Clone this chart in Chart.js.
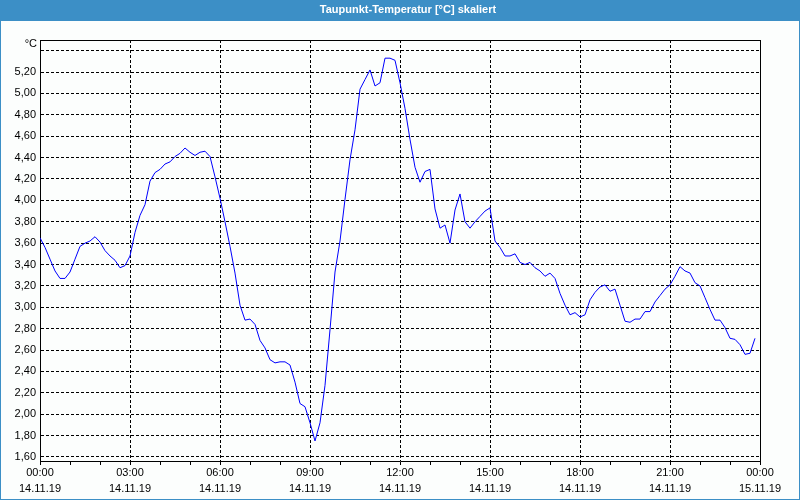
<!DOCTYPE html>
<html>
<head>
<meta charset="utf-8">
<script src="https://cdn.jsdelivr.net/npm/chart.js@4/dist/chart.umd.min.js"></script>
<style>
html,body{margin:0;padding:0;background:#fcfefd;}
#wrap{width:800px;height:500px;}
</style>
</head>
<body>
<div id="wrap"><canvas id="c" width="800" height="500"></canvas></div>
<script>
// ---- data (10-minute samples starting 14.11.19 00:00) ----
const chartTitle = 'Taupunkt-Temperatur [°C] skaliert';
const yUnitLabel = '°C';
const sampleStepMinutes = 10;
const dewPoint = [
  3.65,3.56,3.45,3.34,3.27,3.27,3.33,3.45,3.57,3.60,
  3.62,3.66,3.61,3.53,3.48,3.44,3.37,3.39,3.48,3.70,
  3.86,3.96,4.18,4.26,4.29,4.34,4.36,4.41,4.44,4.49,
  4.45,4.42,4.45,4.46,4.41,4.22,4.02,3.80,3.57,3.32,
  3.02,2.88,2.89,2.84,2.69,2.62,2.51,2.48,2.49,2.49,
  2.46,2.30,2.10,2.07,1.92,1.75,1.92,2.27,2.79,3.33,
  3.62,4.01,4.38,4.66,5.04,5.13,5.22,5.07,5.10,5.33,
  5.33,5.31,5.10,4.86,4.57,4.31,4.17,4.27,4.29,3.92,
  3.74,3.77,3.60,3.91,4.06,3.80,3.74,3.80,3.85,3.90,
  3.93,3.62,3.56,3.48,3.48,3.50,3.42,3.40,3.42,3.37,
  3.34,3.29,3.32,3.27,3.13,3.02,2.93,2.95,2.91,2.93,
  3.07,3.14,3.19,3.21,3.15,3.17,3.02,2.87,2.86,2.89,
  2.89,2.96,2.96,3.05,3.11,3.17,3.21,3.29,3.38,3.34,
  3.32,3.23,3.20,3.09,2.98,2.88,2.88,2.81,2.71,2.70,
  2.65,2.56,2.57,2.71
];
const xTickMinutes = [0,60,120,180,240,300,360,420,480,540,600,660,720,780,840,900,960,1020,1080,1140,1200,1260,1320,1380,1440];
const xTimeLabels = ['00:00','03:00','06:00','09:00','12:00','15:00','18:00','21:00','00:00'];
const xDateLabels = ['14.11.19','14.11.19','14.11.19','14.11.19','14.11.19','14.11.19','14.11.19','14.11.19','15.11.19'];
const yTickValues = [1.6,1.8,2.0,2.2,2.4,2.6,2.8,3.0,3.2,3.4,3.6,3.8,4.0,4.2,4.4,4.6,4.8,5.0,5.2,5.4];
const yTickLabels = ['1,60','1,80','2,00','2,20','2,40','2,60','2,80','3,00','3,20','3,40','3,60','3,80','4,00','4,20','4,40','4,60','4,80','5,00','5,20',''];
const yMin = 1.5625, yMax = 5.5;

const points = dewPoint.map((v, i) => ({x: i * sampleStepMinutes, y: v}));
const tickFont = {family: '"Liberation Sans Narrow", "Liberation Sans", Arial, sans-serif', size: 11, lineHeight: 1.43};

const frame = {
  id: 'frame',
  beforeDraw(chart) {
    const {ctx, width, height} = chart;
    ctx.save();
    ctx.fillStyle = '#fcfefd'; ctx.fillRect(0, 0, width, height);
    ctx.fillStyle = '#3c8fc6'; ctx.fillRect(0, 0, width, 21);
    ctx.strokeStyle = '#3c8fc6'; ctx.lineWidth = 1;
    ctx.strokeRect(0.5, 0.5, width - 1, height - 1);
    ctx.restore();
  },
  afterLayout(chart) {
    if (chart.titleBlock) { chart.titleBlock.left = 16; chart.titleBlock.right = chart.width; }
  },
  afterDraw(chart) {
    const {ctx, chartArea: a} = chart;
    ctx.save();
    ctx.strokeStyle = '#000'; ctx.lineWidth = 1;
    ctx.beginPath();
    ctx.moveTo(a.left, a.top + 0.5);
    ctx.lineTo(a.right + 0.5, a.top + 0.5);
    ctx.lineTo(a.right + 0.5, a.bottom);
    ctx.stroke();
    ctx.font = '11px "Liberation Sans Narrow", "Liberation Sans", Arial, sans-serif';
    ctx.fillStyle = '#000'; ctx.textAlign = 'right'; ctx.textBaseline = 'middle';
    ctx.fillText(yUnitLabel, 37, 44);
    ctx.restore();
  }
};

new Chart(document.getElementById('c'), {
  type: 'line',
  data: {
    datasets: [{
      data: points,
      borderColor: '#0000ff',
      borderWidth: 1,
      pointRadius: 0,
      tension: 0,
      fill: false
    }]
  },
  options: {
    responsive: false,
    animation: false,
    devicePixelRatio: 1,
    layout: {padding: {left: 0, right: 40, top: 0, bottom: 0}},
    plugins: {
      legend: {display: false},
      tooltip: {enabled: false},
      title: {
        display: true,
        text: chartTitle,
        color: '#ffffff',
        font: {family: '"Liberation Sans", Arial, sans-serif', size: 11, weight: 'bold', lineHeight: 1.2},
        padding: {top: 3, bottom: 23.8}
      }
    },
    scales: {
      x: {
        type: 'linear',
        min: 0, max: 1440,
        bounds: 'data',
        afterBuildTicks: s => { s.ticks = xTickMinutes.map(v => ({value: v})); },
        afterFit: s => { s.height = 39; },
        ticks: {
          autoSkip: false, maxRotation: 0, minRotation: 0,
          padding: 0.5,
          color: '#000',
          font: tickFont,
          callback: v => (v % 180 === 0) ? [xTimeLabels[v / 180], xDateLabels[v / 180]] : ''
        },
        grid: {
          color: c => (c.tick && c.tick.value % 180 !== 0) ? 'rgba(0,0,0,0)' : '#000',
          tickColor: '#000',
          tickLength: 4,
          lineWidth: 1,
          drawTicks: true
        },
        border: {display: true, color: '#000', width: 1, dash: [3, 2]}
      },
      y: {
        type: 'linear',
        min: yMin, max: yMax,
        bounds: 'data',
        afterBuildTicks: s => { s.ticks = yTickValues.map(v => ({value: v})); },
        afterFit: s => { s.width = 40; },
        ticks: {
          padding: 4,
          color: '#000',
          font: {family: tickFont.family, size: 11},
          callback: (v, i) => yTickLabels[i]
        },
        grid: {color: '#000', lineWidth: 1, drawTicks: false},
        border: {display: true, color: '#000', width: 1, dash: [3, 2]}
      }
    }
  },
  plugins: [frame]
});
</script>
</body>
</html>
